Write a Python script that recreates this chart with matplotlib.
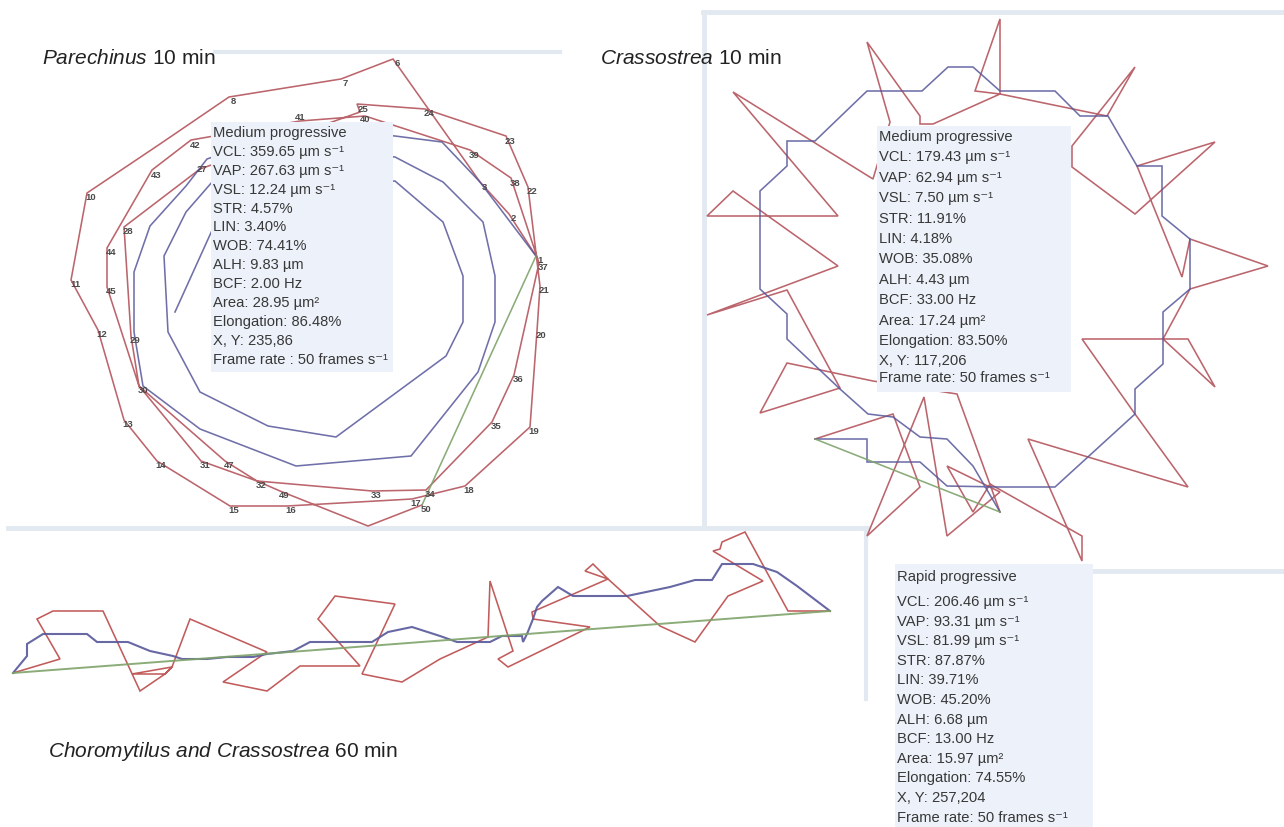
import matplotlib
matplotlib.use("Agg")
import matplotlib.pyplot as plt
from matplotlib.patches import Rectangle

plt.rcParams["font.family"] = ["Liberation Sans", "DejaVu Sans"]
plt.rcParams["mathtext.fontset"] = "custom"
plt.rcParams["mathtext.rm"] = "Liberation Sans"
plt.rcParams["mathtext.it"] = "Liberation Sans:italic"
plt.rcParams["mathtext.bf"] = "Liberation Sans:bold"

# track coordinates (image pixels, y grows downwards)

# Parechinus 10 min -- VCL path, point tags, VAP path, VSL
PAR_VCL = [
    (536, 257), (509, 215), (480, 183), (393, 60), (393, 60), (393, 60),
    (341, 80), (229, 98), (160, 145), (87, 194), (71, 281), (98, 331),
    (124, 421), (157, 462), (230, 507), (287, 507), (412, 500), (465, 487),
    (530, 428), (537, 332), (540, 287), (528, 188), (506, 137), (425, 110),
    (357, 105), (360, 113), (200, 170), (124, 228), (131, 337), (139, 387),
    (201, 462), (257, 482), (372, 492), (426, 491), (492, 423), (514, 376),
    (539, 264), (511, 179), (470, 151), (365, 117), (300, 122), (191, 141),
    (152, 171), (107, 249), (107, 288), (139, 387), (225, 462), (257, 482),
    (280, 492), (368, 527), (422, 506),
]
# points that sit on top of each other only carry one visible tag
PAR_TAGS = [
    "1", "2", "3", "", "", "6", "7", "8", "", "10", "11", "12", "13",
    "14", "15", "16", "17", "18", "19", "20", "21", "22", "23", "24", "25",
    "", "27", "28", "29", "30", "31", "32", "33", "34", "35", "36", "37",
    "38", "39", "40", "41", "42", "43", "44", "45", "", "47", "", "49",
    "", "50",
]
PAR_VAP = [
    (536, 257), (480, 183), (442, 143), (395, 137), (300, 128), (207, 160),
    (186, 187), (150, 227), (134, 273), (134, 333), (143, 387), (200, 430),
    (296, 467), (411, 457), (478, 373), (495, 323), (495, 277), (483, 223),
    (443, 183), (395, 158), (300, 150), (213, 182), (186, 213), (164, 257),
    (168, 333), (200, 393), (268, 427), (336, 438), (446, 357), (463, 323),
    (463, 277), (443, 223), (395, 182), (300, 190), (214, 227), (175, 313),
]
PAR_VSL = [(536, 257), (422, 506)]

# Crassostrea 10 min
CRA_VCL = [
    (815, 440), (893, 415), (920, 488), (867, 537), (924, 398), (947, 537),
    (1000, 493), (947, 467), (973, 513), (990, 485), (1082, 537),
    (1082, 562), (1028, 440), (1188, 488), (1135, 415), (1082, 340),
    (1188, 340), (1215, 388), (1163, 340), (1190, 290), (1268, 267),
    (1190, 240), (1182, 278), (1137, 167), (1215, 143), (1135, 215),
    (1072, 168), (1072, 147), (1135, 68), (1107, 117), (1000, 95),
    (1000, 20), (975, 92), (1000, 95), (933, 125), (920, 125), (920, 117),
    (867, 43), (890, 123), (873, 180), (733, 93), (838, 217), (707, 217),
    (733, 192), (838, 267), (707, 316), (787, 291), (840, 389), (760, 414),
    (787, 364), (873, 382), (957, 395), (1000, 513),
]
CRA_VAP = [
    (815, 440), (867, 440), (867, 463), (920, 463), (947, 487), (1000, 488),
    (1055, 488), (1135, 415), (1135, 390), (1163, 365), (1163, 313),
    (1190, 290), (1190, 240), (1162, 217), (1162, 167), (1137, 167),
    (1108, 117), (1080, 117), (1055, 92), (1000, 92), (973, 68), (948, 68),
    (922, 92), (867, 92), (815, 142), (787, 142), (787, 167), (760, 192),
    (760, 290), (787, 315), (787, 340), (840, 390), (868, 415), (893, 418),
    (920, 438), (947, 440), (973, 467), (1000, 513),
]
CRA_VSL = [(815, 440), (1000, 513)]

# Choromytilus and Crassostrea 60 min
CHO_VCL = [
    (13, 674), (60, 660), (37, 620), (53, 612), (103, 612), (140, 692),
    (165, 675), (172, 668), (132, 675), (165, 675), (172, 668), (190, 620),
    (267, 653), (223, 683), (267, 692), (300, 667), (360, 667), (318, 620),
    (335, 597), (395, 605), (362, 675), (402, 683), (440, 660), (488, 638),
    (490, 582), (513, 652), (498, 660), (508, 668), (590, 628), (533, 620),
    (532, 613), (608, 580), (585, 572), (593, 565), (608, 580), (660, 627),
    (695, 643), (728, 597), (763, 582), (713, 552), (720, 550), (722, 543),
    (745, 533), (788, 612), (830, 612),
]
CHO_VAP = [
    (13, 674), (27, 657), (27, 645), (43, 635), (87, 635), (97, 643),
    (128, 643), (150, 652), (173, 657), (182, 660), (207, 660), (227, 658),
    (253, 658), (267, 655), (293, 652), (310, 643), (372, 643), (388, 633),
    (412, 628), (440, 637), (457, 643), (490, 643), (502, 637), (522, 637),
    (523, 643), (527, 635), (533, 620), (537, 608), (542, 602), (558, 588),
    (573, 597), (627, 597), (670, 588), (695, 581), (712, 581), (722, 565),
    (753, 565), (777, 573), (797, 587), (830, 612),
]
CHO_VSL = [(13, 674), (830, 612)]

# motility read-outs
PAR_STATS = [
    "Medium progressive",
    "VCL: 359.65 µm s⁻¹",
    "VAP: 267.63 µm s⁻¹",
    "VSL: 12.24 µm s⁻¹",
    "STR: 4.57%",
    "LIN: 3.40%",
    "WOB: 74.41%",
    "ALH: 9.83 µm",
    "BCF: 2.00 Hz",
    "Area: 28.95 µm²",
    "Elongation: 86.48%",
    "X, Y: 235,86",
    "Frame rate : 50 frames s⁻¹",
]
CRA_STATS = [
    "Medium progressive",
    "VCL: 179.43 µm s⁻¹",
    "VAP: 62.94 µm s⁻¹",
    "VSL: 7.50 µm s⁻¹",
    "STR: 11.91%",
    "LIN: 4.18%",
    "WOB: 35.08%",
    "ALH: 4.43 µm",
    "BCF: 33.00 Hz",
    "Area: 17.24 µm²",
    "Elongation: 83.50%",
    "X, Y: 117,206",
    "Frame rate: 50 frames s⁻¹",
]
CHO_STATS = [
    "Rapid progressive",
    "VCL: 206.46 µm s⁻¹",
    "VAP: 93.31 µm s⁻¹",
    "VSL: 81.99 µm s⁻¹",
    "STR: 87.87%",
    "LIN: 39.71%",
    "WOB: 45.20%",
    "ALH: 6.68 µm",
    "BCF: 13.00 Hz",
    "Area: 15.97 µm²",
    "Elongation: 74.55%",
    "X, Y: 257,204",
    "Frame rate: 50 frames s⁻¹",
]

RED = "#b4545c"
BLUE = "#56579a"
GREEN = "#7ea36a"
FRAME = "#e3e9f1"
BOXBG = "#edf2fa"
INK = "#383838"

# tag placement: default offset from the point, a few moved clear of the box
TAG_OFFSET = (4, 4)
TAG_NUDGE = {"27": (2, 0), "41": (0, -5), "25": (6, 4), "40": (0, 2)}


def draw_track(ax, pts, color, lw=1.15, alpha=0.9, z=2):
    xs = [p[0] for p in pts]
    ys = [p[1] for p in pts]
    ax.plot(xs, ys, color=color, lw=lw, alpha=alpha, zorder=z,
            solid_joinstyle="miter")


def draw_stats(ax, x0, y0, x1, y1, lines, ys):
    ax.add_patch(Rectangle((x0, y0), x1 - x0, y1 - y0, facecolor=BOXBG,
                           edgecolor="none", zorder=5))
    for txt, y in zip(lines, ys):
        ax.text(x0 + 2, y, txt, fontsize=10.6, color=INK, va="center",
                ha="left", zorder=6)


fig = plt.figure(figsize=(12.84, 8.28), dpi=100)
ax = fig.add_axes([0, 0, 1, 1])
ax.set_xlim(0, 1284)
ax.set_ylim(828, 0)
ax.axis("off")

# panel frames
ax.plot([215, 560], [53, 53], color=FRAME, lw=3, zorder=1)
ax.plot([8, 867], [529, 529], color=FRAME, lw=3.5, zorder=1)
ax.plot([703, 1284], [13, 13], color=FRAME, lw=3.5, zorder=1)
ax.plot([704, 704], [13, 524], color=FRAME, lw=3.5, zorder=1)
ax.plot([866, 866], [529, 700], color=FRAME, lw=3, zorder=1)
ax.plot([1090, 1284], [572, 572], color=FRAME, lw=3.5, zorder=1)

# Parechinus
draw_track(ax, PAR_VCL, RED)
draw_track(ax, PAR_VAP, BLUE, alpha=0.85)
draw_track(ax, PAR_VSL, GREEN)
for (x, y), tag in zip(PAR_VCL, PAR_TAGS):
    if tag:
        dx, dy = TAG_NUDGE.get(tag, TAG_OFFSET)
        ax.text(x + dx, y + dy, tag, fontsize=6.8, color="#4a4a4a",
                ha="center", va="center", zorder=3, fontweight="bold")
draw_stats(ax, 211, 123, 393, 373, PAR_STATS,
           [133 + 18.9 * i for i in range(len(PAR_STATS))])

# Crassostrea
draw_track(ax, CRA_VCL, RED)
draw_track(ax, CRA_VAP, BLUE, alpha=0.85)
draw_track(ax, CRA_VSL, GREEN)
draw_stats(ax, 877, 127, 1071, 393, CRA_STATS,
           [137 + 20.4 * i for i in range(12)] + [378])

# Choromytilus and Crassostrea
draw_track(ax, CHO_VCL, "#bb4a4a")
draw_track(ax, CHO_VAP, BLUE, lw=1.5)
draw_track(ax, CHO_VSL, GREEN, lw=1.4)
draw_stats(ax, 895, 565, 1093, 828, CHO_STATS,
           [577] + [602 + 19.6 * i for i in range(12)])

# panel titles
ax.text(42, 59, r"$\it{Parechinus}$ 10 min", fontsize=15, color="#222222",
        va="center", ha="left")
ax.text(600, 59, r"$\it{Crassostrea}$ 10 min", fontsize=15, color="#222222",
        va="center", ha="left")
ax.text(48, 752, r"$\it{Choromytilus\ and\ Crassostrea}$ 60 min",
        fontsize=15, color="#222222", va="center", ha="left")

fig.savefig("out.png", dpi=100, facecolor="white")
